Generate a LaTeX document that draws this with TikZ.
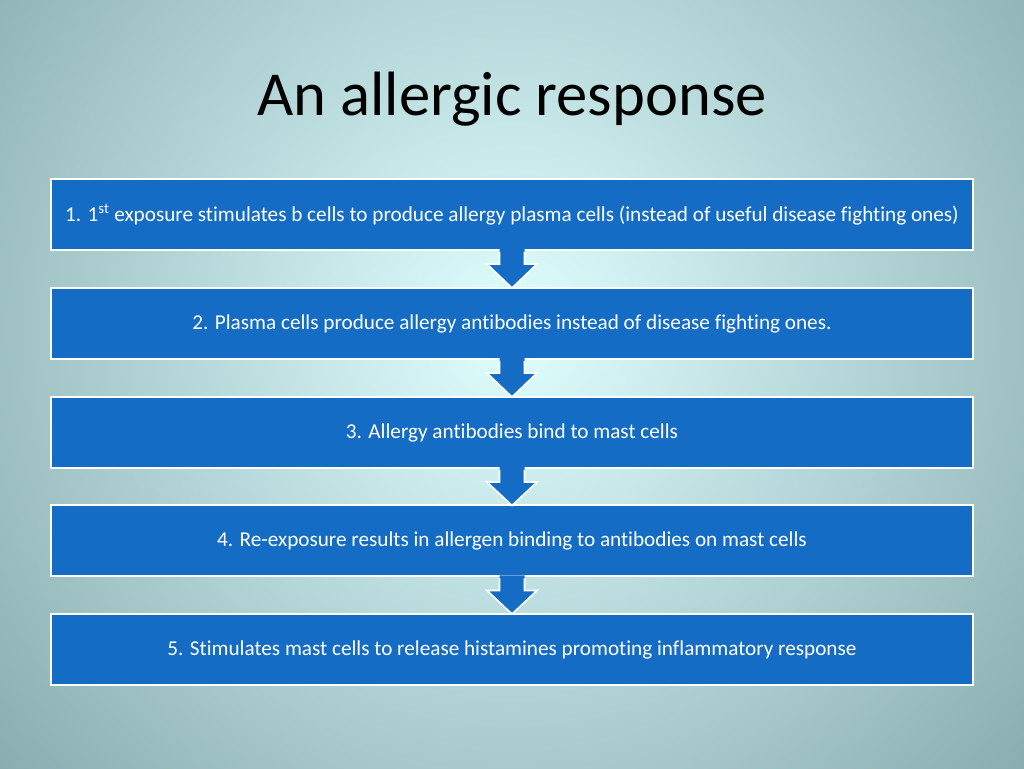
\documentclass[tikz,border=0pt]{standalone}
\usepackage{fontspec}
\setmainfont[Ligatures=NoCommon]{Carlito}
\usetikzlibrary{calc}
\definecolor{boxblue}{RGB}{20,108,197}
\definecolor{bgin}{RGB}{224,255,255}
\definecolor{bgout}{RGB}{88,126,132}
\tikzset{
  stepbox/.style={draw=white, line width=2pt, fill=boxblue, text=white,
    minimum width=922pt, minimum height=71pt, inner sep=0pt,
    font=\fontsize{21.2}{25}\selectfont},
  downarrow/.style={fill=boxblue},
  arrowline/.style={draw=white, line width=1.6pt, line join=miter}
}
\newcommand{\flowarrow}[2]{%
  \fill[downarrow] ($(#1.south)+(-12.5,2)$) -- ($(#1.south)+(-12.5,-13)$) -- ($(#1.south)+(-25,-13)$)
     -- ($(#2.north)+(0,-1)$) -- ($(#1.south)+(25,-13)$) -- ($(#1.south)+(12.5,-13)$) -- ($(#1.south)+(12.5,2)$) -- cycle;
  \draw[arrowline] ($(#1.south)+(-12.5,-1)$) -- ($(#1.south)+(-12.5,-13)$) -- ($(#1.south)+(-25,-13)$)
     -- ($(#2.north)+(0,-1)$) -- ($(#1.south)+(25,-13)$) -- ($(#1.south)+(12.5,-13)$) -- ($(#1.south)+(12.5,-1)$);
}
\begin{document}
\begin{tikzpicture}[x=1pt,y=1pt]
\useasboundingbox (0,0) rectangle (1024,768);
\begin{scope}
\clip (0,0) rectangle (1024,768);
\shade[inner color=bgin, outer color=bgout] (512,440) circle (1060);
\end{scope}
\node[anchor=base, font=\fontsize{62.6}{70}\selectfont] (title) at (512,652) {An allergic response};
\node[stepbox] (b1) at (512,553.5) {1. 1\textsuperscript{st} exposure stimulates b cells to produce allergy plasma cells (instead of useful disease fighting ones)};
\node[stepbox] (b2) at (512,444.5) {2. Plasma cells produce allergy antibodies instead of disease fighting ones.};
\node[stepbox] (b3) at (512,335.5) {3. Allergy antibodies bind to mast cells};
\node[stepbox] (b4) at (512,227) {4. Re-exposure results in allergen binding to antibodies on mast cells};
\node[stepbox] (b5) at (512,118.5) {5. Stimulates mast cells to release histamines promoting inflammatory response};
\flowarrow{b1}{b2}
\flowarrow{b2}{b3}
\flowarrow{b3}{b4}
\flowarrow{b4}{b5}
\end{tikzpicture}
\end{document}
